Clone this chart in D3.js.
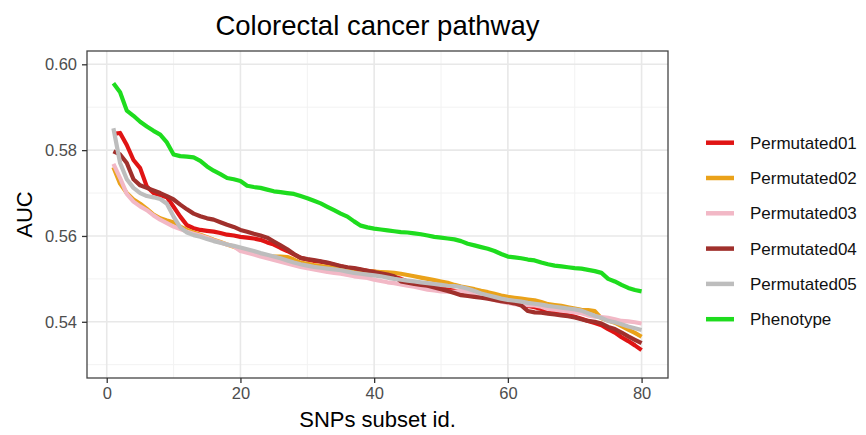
<!DOCTYPE html>
<html>
<head>
<meta charset="utf-8">
<script src="https://cdn.jsdelivr.net/npm/d3@7"></script>
<style>
  body { margin: 0; background: #fff; }
  text { font-family: "Liberation Sans", Arial, sans-serif; }
</style>
</head>
<body>
<svg id="chart" width="866" height="435"></svg>
<script>
// AUC per SNPs subset id (1..80)
const seriesNames = ["Permutated01", "Permutated02", "Permutated03", "Permutated04", "Permutated05", "Phenotype"]
const seriesColors = ["#e01414", "#eaa21a", "#f2b8c6", "#a0302c", "#bdbdbd", "#1edc1e"]

const permutated01 = [0.5838,0.5840,0.5812,0.5777,0.5758,0.5715,0.5700,0.5695,0.5690,0.5668,
  0.5645,0.5625,0.5618,0.5614,0.5612,0.5610,0.5607,0.5603,0.5601,0.5598,
  0.5596,0.5594,0.5591,0.5585,0.5580,0.5572,0.5565,0.5557,0.5549,0.5545,
  0.5542,0.5540,0.5537,0.5533,0.5529,0.5526,0.5524,0.5521,0.5519,0.5517,
  0.5513,0.5509,0.5505,0.5500,0.5494,0.5489,0.5486,0.5484,0.5481,0.5478,
  0.5475,0.5472,0.5468,0.5466,0.5464,0.5461,0.5458,0.5455,0.5451,0.5447,
  0.5445,0.5441,0.5437,0.5434,0.5430,0.5426,0.5422,0.5419,0.5416,0.5412,
  0.5407,0.5402,0.5397,0.5392,0.5383,0.5375,0.5364,0.5355,0.5345,0.5334]

const permutated02 = [0.5760,0.5722,0.5700,0.5685,0.5675,0.5663,0.5650,0.5641,0.5636,0.5632,
  0.5622,0.5614,0.5608,0.5603,0.5597,0.5591,0.5586,0.5580,0.5575,0.5568,
  0.5564,0.5560,0.5555,0.5553,0.5552,0.5552,0.5551,0.5545,0.5538,0.5535,
  0.5532,0.5530,0.5528,0.5526,0.5524,0.5522,0.5521,0.5519,0.5518,0.5517,
  0.5516,0.5515,0.5514,0.5512,0.5509,0.5506,0.5503,0.5500,0.5497,0.5494,
  0.5491,0.5486,0.5482,0.5479,0.5476,0.5472,0.5469,0.5465,0.5461,0.5458,
  0.5456,0.5454,0.5452,0.5450,0.5446,0.5441,0.5439,0.5437,0.5434,0.5431,
  0.5428,0.5427,0.5425,0.5408,0.5403,0.5398,0.5390,0.5382,0.5374,0.5365]

const permutated03 = [0.5768,0.5735,0.5698,0.5680,0.5669,0.5660,0.5648,0.5638,0.5630,0.5622,
  0.5616,0.5610,0.5605,0.5601,0.5596,0.5590,0.5585,0.5580,0.5576,0.5565,
  0.5561,0.5557,0.5552,0.5548,0.5544,0.5540,0.5536,0.5532,0.5528,0.5525,
  0.5522,0.5519,0.5516,0.5514,0.5512,0.5509,0.5506,0.5504,0.5502,0.5498,
  0.5495,0.5492,0.5490,0.5487,0.5484,0.5482,0.5478,0.5475,0.5473,0.5471,
  0.5470,0.5470,0.5472,0.5468,0.5463,0.5458,0.5455,0.5451,0.5447,0.5444,
  0.5441,0.5440,0.5439,0.5438,0.5435,0.5430,0.5428,0.5426,0.5424,0.5422,
  0.5420,0.5415,0.5412,0.5411,0.5409,0.5406,0.5402,0.5401,0.5399,0.5396]

const permutated04 = [0.5797,0.5790,0.5770,0.5732,0.5718,0.5712,0.5706,0.5700,0.5693,0.5685,
  0.5673,0.5662,0.5652,0.5646,0.5641,0.5638,0.5632,0.5626,0.5621,0.5614,
  0.5610,0.5605,0.5601,0.5596,0.5587,0.5578,0.5569,0.5558,0.5549,0.5546,
  0.5544,0.5541,0.5538,0.5534,0.5530,0.5527,0.5525,0.5522,0.5519,0.5516,
  0.5513,0.5510,0.5506,0.5494,0.5491,0.5488,0.5486,0.5484,0.5480,0.5476,
  0.5472,0.5467,0.5462,0.5460,0.5458,0.5456,0.5454,0.5451,0.5448,0.5446,
  0.5443,0.5438,0.5425,0.5422,0.5421,0.5419,0.5417,0.5415,0.5413,0.5410,
  0.5406,0.5402,0.5400,0.5396,0.5388,0.5383,0.5375,0.5366,0.5358,0.5350]

const permutated05 = [0.5851,0.5770,0.5732,0.5712,0.5700,0.5693,0.5690,0.5686,0.5675,0.5645,
  0.5620,0.5608,0.5602,0.5598,0.5593,0.5588,0.5584,0.5580,0.5577,0.5573,
  0.5569,0.5565,0.5560,0.5556,0.5552,0.5548,0.5543,0.5538,0.5534,0.5531,
  0.5528,0.5526,0.5524,0.5522,0.5520,0.5517,0.5514,0.5512,0.5510,0.5508,
  0.5506,0.5503,0.5500,0.5498,0.5496,0.5494,0.5492,0.5490,0.5488,0.5486,
  0.5484,0.5483,0.5481,0.5477,0.5472,0.5466,0.5462,0.5458,0.5454,0.5451,
  0.5449,0.5447,0.5444,0.5442,0.5440,0.5437,0.5435,0.5433,0.5431,0.5429,
  0.5426,0.5420,0.5414,0.5409,0.5402,0.5399,0.5394,0.5389,0.5385,0.5381]

const phenotype = [0.5956,0.5935,0.5892,0.5880,0.5866,0.5855,0.5845,0.5836,0.5818,0.5790,
  0.5786,0.5785,0.5783,0.5775,0.5762,0.5752,0.5744,0.5735,0.5732,0.5728,
  0.5717,0.5714,0.5712,0.5708,0.5704,0.5702,0.5700,0.5698,0.5693,0.5688,
  0.5682,0.5676,0.5668,0.5660,0.5652,0.5645,0.5634,0.5624,0.5620,0.5617,
  0.5615,0.5613,0.5611,0.5609,0.5608,0.5606,0.5604,0.5601,0.5598,0.5596,
  0.5594,0.5592,0.5588,0.5582,0.5578,0.5574,0.5570,0.5565,0.5558,0.5552,
  0.5550,0.5548,0.5545,0.5543,0.5538,0.5534,0.5531,0.5529,0.5527,0.5525,
  0.5524,0.5521,0.5518,0.5514,0.5500,0.5494,0.5486,0.5479,0.5474,0.5471]

const xTicks = [0, 20, 40, 60, 80]
const xMinor = [10, 30, 50, 70]
const yTicks = [0.54, 0.56, 0.58, 0.60]
const yMinor = [0.53, 0.55, 0.57, 0.59]

const allSeries = [permutated01, permutated02, permutated03, permutated04, permutated05, phenotype]

const svg = d3.select("#chart")
const panelLeft = 87, panelTop = 51, panelRight = 668, panelBottom = 378

const x = d3.scaleLinear().domain([-2.95, 83.95]).range([panelLeft, panelRight])
const y = d3.scaleLinear().domain([0.5269, 0.6031]).range([panelBottom, panelTop])

// panel grid
const grid = svg.append("g")
grid.selectAll(".ymin").data(yMinor).enter().append("line")
    .attr("x1", panelLeft).attr("x2", panelRight)
    .attr("y1", d => y(d)).attr("y2", d => y(d))
    .attr("stroke", "#f2f2f2").attr("stroke-width", 1)
grid.selectAll(".xmin").data(xMinor).enter().append("line")
    .attr("y1", panelTop).attr("y2", panelBottom)
    .attr("x1", d => x(d)).attr("x2", d => x(d))
    .attr("stroke", "#f2f2f2").attr("stroke-width", 1)
grid.selectAll(".ymaj").data(yTicks).enter().append("line")
    .attr("x1", panelLeft).attr("x2", panelRight)
    .attr("y1", d => y(d)).attr("y2", d => y(d))
    .attr("stroke", "#e8e8e8").attr("stroke-width", 1.6)
grid.selectAll(".xmaj").data(xTicks).enter().append("line")
    .attr("y1", panelTop).attr("y2", panelBottom)
    .attr("x1", d => x(d)).attr("x2", d => x(d))
    .attr("stroke", "#e8e8e8").attr("stroke-width", 1.6)

// lines
const line = d3.line()
    .x((d, i) => x(i + 1))
    .y(d => y(d))

svg.append("g").selectAll("path")
    .data(allSeries)
    .enter()
    .append("path")
    .attr("d", d => line(d))
    .attr("fill", "none")
    .attr("stroke", (d, i) => seriesColors[i])
    .attr("stroke-width", 4.2)
    .attr("stroke-linejoin", "round")
    .attr("stroke-linecap", "butt")

// panel border
svg.append("rect")
    .attr("x", panelLeft).attr("y", panelTop)
    .attr("width", panelRight - panelLeft).attr("height", panelBottom - panelTop)
    .attr("fill", "none").attr("stroke", "#444").attr("stroke-width", 1.3)

// axes
const xAxis = d3.axisBottom(x).tickValues(xTicks).tickSize(5).tickPadding(4)
const yAxis = d3.axisLeft(y).tickValues(yTicks).tickFormat(d3.format(".2f")).tickSize(5).tickPadding(5)

const gx = svg.append("g").attr("transform", "translate(0," + panelBottom + ")").call(xAxis)
const gy = svg.append("g").attr("transform", "translate(" + panelLeft + ",0)").call(yAxis)
for (const g of [gx, gy]) {
    g.select(".domain").remove()
    g.selectAll(".tick line").attr("stroke", "#333").attr("stroke-width", 1.3)
    g.selectAll(".tick text").attr("fill", "#4d4d4d").attr("font-size", "16.5px")
        .attr("font-family", "'Liberation Sans', Arial, sans-serif")
}

// titles
svg.append("text")
    .attr("x", (panelLeft + panelRight) / 2).attr("y", 35)
    .attr("text-anchor", "middle")
    .attr("font-size", "27.5px").attr("fill", "#000")
    .text("Colorectal cancer pathway")

svg.append("text")
    .attr("x", (panelLeft + panelRight) / 2).attr("y", 427)
    .attr("text-anchor", "middle")
    .attr("font-size", "22px").attr("fill", "#000")
    .text("SNPs subset id.")

svg.append("text")
    .attr("transform", "translate(32," + ((panelTop + panelBottom) / 2) + ") rotate(-90)")
    .attr("text-anchor", "middle")
    .attr("font-size", "22px").attr("fill", "#000")
    .text("AUC")

// legend
const legend = svg.append("g")
    .selectAll("g")
    .data(seriesNames)
    .enter()
    .append("g")
    .attr("transform", (d, i) => "translate(706," + (142.7 + i * 35.3) + ")")

legend.append("line")
    .attr("x1", 0).attr("x2", 28)
    .attr("stroke", (d, i) => seriesColors[i])
    .attr("stroke-width", 4.5)

legend.append("text")
    .attr("x", 44).attr("y", 6)
    .attr("font-size", "17px").attr("fill", "#111")
    .text(d => d)
</script>
</body>
</html>
